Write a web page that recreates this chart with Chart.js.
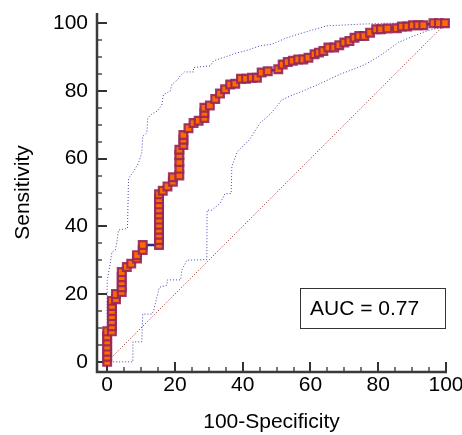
<!DOCTYPE html>
<html lang="en">
<head>
<meta charset="UTF-8">
<title>ROC curve</title>
<script src="https://cdn.jsdelivr.net/npm/chart.js"></script>
<style>
  html, body { margin: 0; padding: 0; background: #fff; }
</style>
</head>
<body>
<canvas id="rocChart" width="462" height="435"></canvas>
<script>
// ROC curve points: 100-Specificity (x) and Sensitivity (y)
const rocX = [
  0, 0, 0, 0, 0, 0, 0,
  1.4, 1.4, 1.4, 1.4, 1.4, 1.4, 1.4,
  2.6, 2.6,
  4.3, 4.3, 4.3, 4.3, 4.3,
  5.8, 7.1, 8.8, 8.8,
  10.5, 10.5,
  15.3, 15.3, 15.3, 15.3, 15.3, 15.3, 15.3, 15.3, 15.3, 15.3, 15.3,
  16.4, 17.8, 19.4, 19.4,
  21.3, 21.3, 21.3, 21.3, 21.3,
  22.5, 22.5, 22.5,
  24, 25.5, 27,
  28.7, 28.7, 28.7,
  30.3, 31.9, 33.3, 34.8, 36.3, 37.8, 39.5, 41, 42.7, 44.2, 45.6, 47.4,
  50.5, 51.8, 53.3, 54.8, 56.4, 57.9, 59.4, 61.2, 62.5, 63.8, 65.3, 67,
  68.5, 70, 71.5, 73, 74.4, 75.9, 77.6, 79.4, 80.8, 82.7, 85.5, 87,
  88.6, 90.2, 91.8, 93.3, 96.3, 97.9, 99.7
];
const rocY = [
  0, 1.5, 3, 4.5, 6, 7.5, 9,
  9, 10.5, 12, 13.5, 15, 16.5, 18,
  18.5, 20,
  20.6, 22, 23.5, 25, 26.5,
  28, 29, 30.5, 31.5,
  33, 34.5,
  34.5, 36, 37.5, 39, 40.5, 42, 43.5, 45, 46.5, 48, 49.5,
  50.5, 51.8, 53.2, 54.5,
  55, 57, 59, 61, 62.6,
  64, 65.6, 67,
  69, 70.5, 71.2,
  72, 73.5, 75,
  75.7, 77.6, 79.2, 80.5, 81.9, 82.1, 83.6, 83.6, 83.9, 83.9, 85.4, 85.8,
  86.4, 87.8, 88.5, 88.9, 89.3, 89.3, 89.8, 90.8, 91.3, 91.8, 92.8, 92.8,
  93.5, 94.3, 94.7, 95.7, 96.2, 96.2, 97.2, 98.2, 98.2, 98.4, 98.5, 99,
  99, 99.4, 99.4, 99.4, 100, 100, 100
];

// upper 95% confidence bound
const upperX = [0, 0, 0.9, 1.4, 2.4, 2.9, 3.3, 6, 6.3, 7.8, 9.2, 10.2, 10.5, 11.7, 12, 13.2, 14.7,
  16.1, 16.6, 18.6, 19.1, 20.9, 21.5, 22.8, 25.5, 25.5, 30.4, 31.4, 36.3, 37.8, 40.7, 45.1,
  48.6, 51, 52.5, 57.9, 64.8, 74.6, 83, 100];
const upperY = [0, 24, 29, 32.4, 33, 35.4, 38.9, 39.4, 54.2, 56.2, 58.6, 61.6, 66.6, 67.6, 72, 73.2, 74,
  75.7, 78.9, 79.9, 81.9, 83.4, 84.4, 85.6, 85.6, 86.9, 87.4, 88.9, 90.5, 91.1, 91.8, 93.3,
  93.8, 94.8, 95.5, 97.2, 99.2, 99.7, 100, 100];

// lower 95% confidence bound
const lowerX = [0, 7.6, 7.6, 10.2, 10.5, 13.2, 13.7, 15.4, 17.6, 17.8, 21.7, 22, 23.5, 29.4, 29.5,
  30.9, 33.3, 34.8, 36.6, 36.8, 38.4, 42, 45.1, 48.3, 51.5, 54, 56.4, 62.3, 68.7, 72.7, 76.1,
  79.6, 82.5, 85.9, 90.4, 94.3, 98.2, 100];
const lowerY = [0, 0, 5.9, 5.9, 14.1, 14.1, 15.1, 22, 22.6, 24.2, 24.2, 27, 30, 30.2, 44.8,
  44.8, 46.8, 49.7, 49.7, 57.7, 62, 65.6, 70.5, 73.3, 77.3, 78.5, 79.4, 81.9, 84.9, 86.4, 87.8,
  89.8, 91.8, 94.3, 96.2, 97.7, 98.7, 100];

// reference diagonal
const diagX = [0, 100];
const diagY = [0, 100];

const tickValues = [0, 20, 40, 60, 80, 100];
const aucText = 'AUC = 0.77';

function toPoints(xs, ys) {
  return xs.map((x, i) => ({ x: x, y: ys[i] }));
}

const FONT = '"Liberation Sans", Arial, Helvetica, sans-serif';

// axis lines with inward major/minor ticks, plus the AUC box
const axesPlugin = {
  id: 'axesPlugin',
  beforeDatasetsDraw(chart) {
    const ctx = chart.ctx;
    const a = chart.chartArea;
    const xs = chart.scales.x, ys = chart.scales.y;
    ctx.save();
    ctx.lineWidth = 2;
    for (let v = 0; v <= 100; v += 5) {
      const major = v % 20 === 0;
      const len = major ? 10 : 5;
      ctx.strokeStyle = major ? '#333' : '#777';
      const px = Math.round(xs.getPixelForValue(v));
      const py = Math.round(ys.getPixelForValue(v));
      ctx.beginPath();
      ctx.moveTo(px, a.bottom);
      ctx.lineTo(px, a.bottom - len);
      ctx.moveTo(a.left, py);
      ctx.lineTo(a.left + len, py);
      ctx.stroke();
    }
    ctx.strokeStyle = '#3a3a3a';
    ctx.lineWidth = 2.5;
    ctx.beginPath();
    ctx.moveTo(a.left, a.top);
    ctx.lineTo(a.left, a.bottom);
    ctx.lineTo(a.right + 1, a.bottom);
    ctx.stroke();
    ctx.restore();
  },
  afterDraw(chart) {
    const ctx = chart.ctx;
    const a = chart.chartArea;
    const w = 145, h = 40;
    const bx = a.right - w - 1, by = a.bottom - 84;
    ctx.save();
    ctx.fillStyle = '#fff';
    ctx.fillRect(bx, by, w, h);
    ctx.strokeStyle = '#333';
    ctx.lineWidth = 1;
    ctx.strokeRect(bx + 0.5, by + 0.5, w, h);
    ctx.fillStyle = '#000';
    ctx.font = '21px ' + FONT;
    ctx.textBaseline = 'middle';
    ctx.fillText(aucText, bx + 10, by + h / 2 + 1);
    ctx.restore();
  }
};

const ctx = document.getElementById('rocChart').getContext('2d');
new Chart(ctx, {
  type: 'scatter',
  data: {
    datasets: [
      {
        label: 'ROC',
        data: toPoints(rocX, rocY),
        showLine: true,
        borderColor: '#2b2b86',
        borderWidth: 2.5,
        pointStyle: 'rect',
        pointRadius: 5.5,
        pointBorderWidth: 2.2,
        pointBackgroundColor: '#ff6a00',
        pointBorderColor: 'rgba(150, 38, 90, 0.9)',
        clip: false
      },
      {
        label: 'Upper',
        data: toPoints(upperX, upperY),
        showLine: true,
        borderColor: '#4545b0',
        borderWidth: 1,
        borderDash: [1, 2],
        pointRadius: 0
      },
      {
        label: 'Lower',
        data: toPoints(lowerX, lowerY),
        showLine: true,
        borderColor: '#4545b0',
        borderWidth: 1,
        borderDash: [1, 2],
        pointRadius: 0
      },
      {
        label: 'Diagonal',
        data: toPoints(diagX, diagY),
        showLine: true,
        borderColor: '#8e1c1c',
        borderWidth: 1,
        borderDash: [1, 2],
        pointRadius: 0
      }
    ]
  },
  options: {
    responsive: false,
    animation: false,
    layout: { padding: { top: 13, right: 16, left: 0, bottom: 0 } },
    plugins: {
      legend: { display: false },
      tooltip: { enabled: false }
    },
    scales: {
      x: {
        type: 'linear',
        min: -3,
        max: 100,
        grid: { display: false, drawTicks: false },
        border: { display: false },
        ticks: { color: '#000', font: { family: FONT, size: 21 }, padding: 1 },
        afterBuildTicks: s => { s.ticks = tickValues.map(v => ({ value: v })); },
        afterFit: s => { s.height = 63; s.paddingLeft = 0; s.paddingRight = 0; },
        title: {
          display: true,
          text: '100-Specificity',
          color: '#000',
          font: { family: FONT, size: 21 },
          padding: { top: 0, bottom: 0 }
        }
      },
      y: {
        type: 'linear',
        min: -3,
        max: 103,
        grid: { display: false, drawTicks: false },
        border: { display: false },
        ticks: { color: '#000', font: { family: FONT, size: 21 }, padding: 9 },
        afterBuildTicks: s => { s.ticks = tickValues.map(v => ({ value: v })); },
        afterFit: s => { s.width = 97; s.paddingTop = 0; s.paddingBottom = 0; },
        title: {
          display: true,
          text: 'Sensitivity',
          color: '#000',
          font: { family: FONT, size: 21 },
          padding: { top: 11, bottom: 0 }
        }
      }
    }
  },
  plugins: [axesPlugin]
});
</script>
</body>
</html>
